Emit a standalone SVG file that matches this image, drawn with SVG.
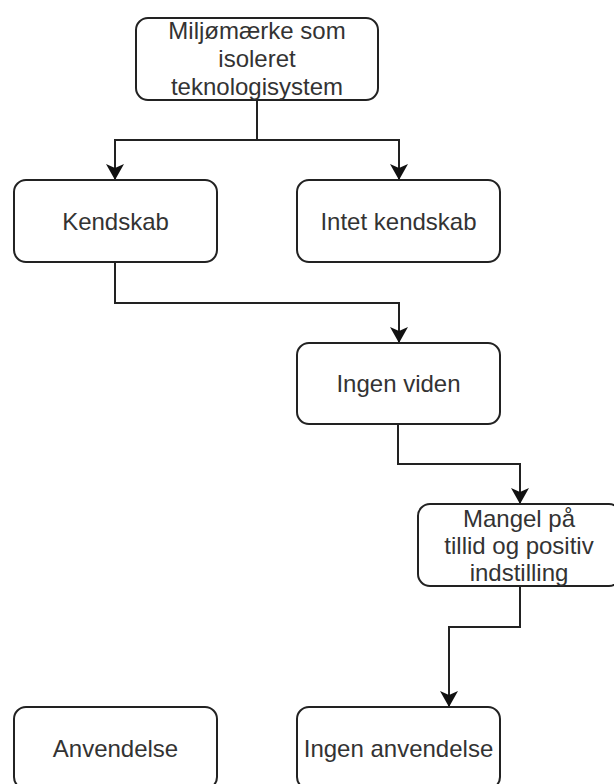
<svg xmlns="http://www.w3.org/2000/svg" width="614" height="784" viewBox="0 0 614 784">
  <style>
    .box { fill: #ffffff; stroke: #222222; stroke-width: 2; }
    .lbl { font-family: "Liberation Sans", Arial, sans-serif; font-size: 24px; fill: #333333; text-anchor: middle; }
    .edge { fill: none; stroke: #222222; stroke-width: 2; }
  </style>
  <defs>
    <marker id="arrow" markerUnits="userSpaceOnUse" markerWidth="16" markerHeight="18" viewBox="0 0 16 18" refX="16" refY="9" orient="auto">
      <path d="M0 0 L16 9 L0 18 L4 9 Z" fill="#111111"/>
    </marker>
  </defs>
  <rect width="614" height="784" fill="#ffffff"/>

  <g id="connectors">
    <path class="edge" d="M257 100 V140 H115 V180" marker-end="url(#arrow)"/>
    <path class="edge" d="M257 140 H399 V180" marker-end="url(#arrow)"/>
    <path class="edge" d="M115 262 V303 H399 V343" marker-end="url(#arrow)"/>
    <path class="edge" d="M398 424 V464 H520 V504" marker-end="url(#arrow)"/>
    <path class="edge" d="M520 586 V627 H449 V707" marker-end="url(#arrow)"/>
  </g>

  <g id="node-miljomaerke">
    <rect class="box" x="136" y="18" width="242" height="82" rx="12"/>
    <text class="lbl" x="257" y="39">Miljømærke som</text>
    <text class="lbl" x="257" y="67">isoleret</text>
    <text class="lbl" x="257" y="95">teknologisystem</text>
  </g>

  <g id="node-kendskab">
    <rect class="box" x="14" y="180" width="203" height="82" rx="12"/>
    <text class="lbl" x="115.5" y="230">Kendskab</text>
  </g>

  <g id="node-intet-kendskab">
    <rect class="box" x="297" y="180" width="203" height="82" rx="12"/>
    <text class="lbl" x="398.5" y="230">Intet kendskab</text>
  </g>

  <g id="node-ingen-viden">
    <rect class="box" x="297" y="343" width="203" height="81" rx="12"/>
    <text class="lbl" x="398.5" y="392">Ingen viden</text>
  </g>

  <g id="node-mangel">
    <rect class="box" x="418" y="504" width="203" height="82" rx="12"/>
    <text class="lbl" x="519" y="527">Mangel på</text>
    <text class="lbl" x="519" y="554">tillid og positiv</text>
    <text class="lbl" x="519" y="581">indstilling</text>
  </g>

  <g id="node-anvendelse">
    <rect class="box" x="14" y="707" width="203" height="82" rx="12"/>
    <text class="lbl" x="115.5" y="757">Anvendelse</text>
  </g>

  <g id="node-ingen-anvendelse">
    <rect class="box" x="297" y="707" width="203" height="82" rx="12"/>
    <text class="lbl" x="398.5" y="757">Ingen anvendelse</text>
  </g>
</svg>
